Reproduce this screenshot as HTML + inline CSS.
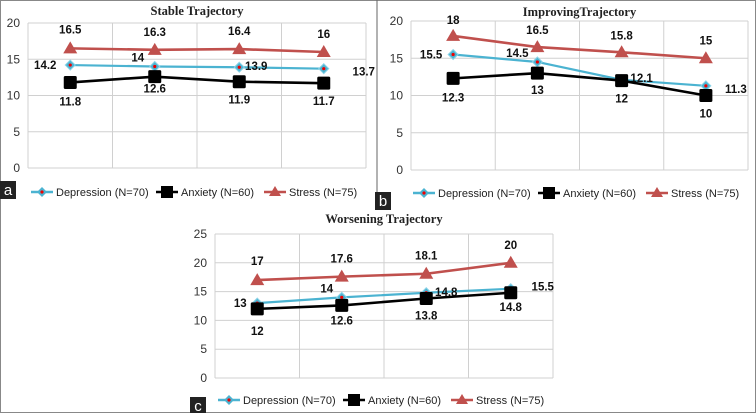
<!DOCTYPE html>
<html><head><meta charset="utf-8"><style>
body{margin:0;background:#fff;}
svg{display:block;font-family:"Liberation Sans",sans-serif;}
.tick{font-size:12px;fill:#333;}
.val{font-size:11.5px;font-weight:bold;fill:#111;}
.title{font-family:"Liberation Serif",serif;font-weight:bold;font-size:12.5px;fill:#222;}
.leg{font-size:11px;fill:#222;}
</style></head><body>
<svg id="c" width="756" height="413">
<rect x="0.5" y="0.5" width="755" height="412" fill="none" stroke="#888"/>
<line x1="377" y1="0" x2="377" y2="205" stroke="#666"/>
</svg>
<script>
const seriesNames = ["Depression (N=70)", "Anxiety (N=60)", "Stress (N=75)"];
const stableDepression = [14.2, 14, 13.9, 13.7];
const stableAnxiety = [11.8, 12.6, 11.9, 11.7];
const stableStress = [16.5, 16.3, 16.4, 16];
const improvingDepression = [15.5, 14.5, 12.1, 11.3];
const improvingAnxiety = [12.3, 13, 12, 10];
const improvingStress = [18, 16.5, 15.8, 15];
const worseningDepression = [13, 14, 14.8, 15.5];
const worseningAnxiety = [12, 12.6, 13.8, 14.8];
const worseningStress = [17, 17.6, 18.1, 20];
const ticksA = [0, 5, 10, 15, 20];
const ticksC = [0, 5, 10, 15, 20, 25];

const NS = "http://www.w3.org/2000/svg";
const svg = document.getElementById("c");
function mk(tag, attrs, parent) {
  const e = document.createElementNS(NS, tag);
  for (const k in attrs) e.setAttribute(k, attrs[k]);
  (parent || svg).appendChild(e);
  return e;
}
const colors = ["#4bb3d1", "#000", "#c0504d"];
function drawPanel(p) {
  const g = mk("g", {});
  
  
  const ymax = p.ticks[p.ticks.length - 1];
  const y = v => p.bottom - (v / ymax) * (p.bottom - p.top);
  const cw = (p.right - p.left) / 4;
  const x = i => p.left + cw * (i + 0.5);
  for (const t of p.ticks) {
    const gl = mk("line", {x1: p.left, x2: p.right, y1: y(t), y2: y(t), stroke: "#d0d0d0"}, g);
    
    
    const tl = mk("text", {x: p.left - 8, y: y(t) + 4, "text-anchor": "end", class: "tick"}, g);
    tl.textContent = t;
    
    
  }
  for (let i = 0; i <= 4; i++) {
    const vl = mk("line", {x1: p.left + cw * i, x2: p.left + cw * i, y1: p.top, y2: p.bottom, stroke: "#d0d0d0"}, g);
    
    
  }
  const tt = mk("text", {x: (p.left + p.right) / 2, y: p.titleY, "text-anchor": "middle", class: "title"}, g);
  tt.textContent = p.title;
  
  
  [0, 1, 2].forEach(s => {
    const data = p.series[s];
    const pts = data.map((v, i) => x(i) + "," + y(v)).join(" ");
    const ln = mk("polyline", {points: pts, fill: "none", stroke: colors[s], "stroke-width": s === 0 ? 2.2 : 2.6}, g);
    
    
    data.forEach((v, i) => {
      const cx = x(i), cy = y(v);
      let m;
      if (s === 0) {
        m = mk("polygon", {points: `${cx},${cy-5} ${cx+5},${cy} ${cx},${cy+5} ${cx-5},${cy}`, fill: "#4bb3d1", stroke: "#8fd4e8"}, g);
        mk("circle", {cx: cx, cy: cy, r: 1.6, fill: "#e00"}, g);
      } else if (s === 1) {
        m = mk("rect", {x: cx - 6.5, y: cy - 6.5, width: 13, height: 13, rx: 1.5, fill: "#000"}, g);
      } else {
        m = mk("polygon", {points: `${cx},${cy-7} ${cx+7},${cy+5} ${cx-7},${cy+5}`, fill: "#c0504d"}, g);
      }
      
      
      const off = p.offsets[s][i];
      const lb = mk("text", {x: cx + off[0], y: cy + off[1], "text-anchor": "middle", class: "val"}, g);
      lb.textContent = v;
      
      
    });
  });
  let lx = p.legX;
  const ly = p.legY;
  const widths = [125, 108, 100];
  seriesNames.forEach((n, s) => {
    const ll = mk("line", {x1: lx, x2: lx + 22, y1: ly, y2: ly, stroke: colors[s], "stroke-width": 2.5}, g);
    
    
    const cx = lx + 11;
    if (s === 0) { mk("polygon", {points: `${cx},${ly-5} ${cx+5},${ly} ${cx},${ly+5} ${cx-5},${ly}`, fill: "#4bb3d1"}, g); mk("circle", {cx: cx, cy: ly, r: 1.6, fill: "#e00"}, g); }
    else if (s === 1) mk("rect", {x: cx - 6, y: ly - 6, width: 12, height: 12, fill: "#000"}, g);
    else mk("polygon", {points: `${cx},${ly-6} ${cx+6},${ly+4} ${cx-6},${ly+4}`, fill: "#c0504d"}, g);
    const t = mk("text", {x: lx + 25, y: ly + 4, class: "leg"}, g);
    t.textContent = n;
    
    
    lx += widths[s];
  });
  const bx = mk("rect", {x: p.tagX, y: p.tagY, width: 16, height: 18, fill: "#222"}, g);
  
  
  const bt = mk("text", {x: p.tagX + 8, y: p.tagY + 14, "text-anchor": "middle", fill: "#fff", "font-size": "15"}, g);
  bt.textContent = p.tag;
  
  
}
drawPanel({name: "stable-trajectory-chart", title: "Stable Trajectory", tag: "a", left: 28, right: 366, top: 23, bottom: 168, titleY: 15, ticks: ticksA,
  series: [stableDepression, stableAnxiety, stableStress],
  offsets: [[[-25,4],[-17,-5],[17,3],[40,7]], [[0,23],[0,16],[0,22],[0,22]], [[0,-15],[0,-14],[0,-14],[0,-14]]],
  legX: 31, legY: 192, tagX: 0, tagY: 181});
drawPanel({name: "improving-trajectory-chart", title: "ImprovingTrajectory", tag: "b", left: 411, right: 748, top: 21, bottom: 170, titleY: 16, ticks: ticksA,
  series: [improvingDepression, improvingAnxiety, improvingStress],
  offsets: [[[-22,4],[-20,-5],[20,2],[30,7]], [[0,23],[0,21],[0,22],[0,22]], [[0,-12],[0,-13],[0,-13],[0,-14]]],
  legX: 413, legY: 193, tagX: 375, tagY: 192});
drawPanel({name: "worsening-trajectory-chart", title: "Worsening Trajectory", tag: "c", left: 215, right: 553, top: 234, bottom: 378, titleY: 223, ticks: ticksC,
  series: [worseningDepression, worseningAnxiety, worseningStress],
  offsets: [[[-17,4],[-15,-5],[20,3],[32,2]], [[0,26],[0,19],[0,21],[0,18]], [[0,-15],[0,-14],[0,-14],[0,-14]]],
  legX: 218, legY: 400, tagX: 190, tagY: 397});
</script>
</body></html>
